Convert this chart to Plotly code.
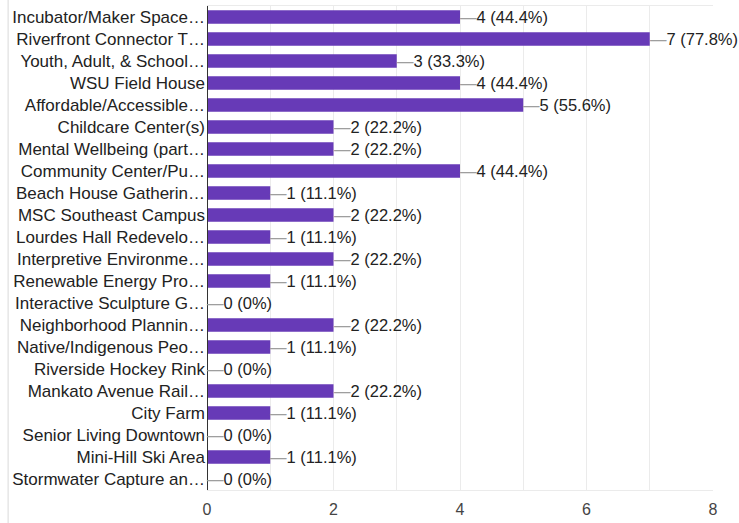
import plotly.graph_objects as go

categories = [
    "Incubator/Maker Space…",
    "Riverfront Connector T…",
    "Youth, Adult, & School…",
    "WSU Field House",
    "Affordable/Accessible…",
    "Childcare Center(s)",
    "Mental Wellbeing (part…",
    "Community Center/Pu…",
    "Beach House Gatherin…",
    "MSC Southeast Campus",
    "Lourdes Hall Redevelo…",
    "Interpretive Environme…",
    "Renewable Energy Pro…",
    "Interactive Sculpture G…",
    "Neighborhood Plannin…",
    "Native/Indigenous Peo…",
    "Riverside Hockey Rink",
    "Mankato Avenue Rail…",
    "City Farm",
    "Senior Living Downtown",
    "Mini-Hill Ski Area",
    "Stormwater Capture an…",
]
counts = [4, 7, 3, 4, 5, 2, 2, 4, 1, 2, 1, 2, 1, 0, 2, 1, 0, 2, 1, 0, 1, 0]
percents = ["44.4%", "77.8%", "33.3%", "44.4%", "55.6%", "22.2%", "22.2%", "44.4%",
            "11.1%", "22.2%", "11.1%", "22.2%", "11.1%", "0%", "22.2%", "11.1%",
            "0%", "22.2%", "11.1%", "0%", "11.1%", "0%"]
x_tickvals = [0, 1, 2, 3, 4, 5, 6, 7, 8]
x_ticktext = ["0", "", "2", "", "4", "", "6", "", "8"]

FONT = "Liberation Sans, Arial, sans-serif"

fig = go.Figure()
fig.add_trace(go.Bar(
    y=categories, x=counts, orientation="h",
    marker=dict(color="#673ab7", line=dict(width=0)),
    hoverinfo="skip",
))

for cat, c, p in zip(categories, counts, percents):
    fig.add_annotation(
        x=c, y=cat, xref="x", yref="y",
        text=f"<span style='color:#9e9e9e'>—</span>{c} ({p})",
        showarrow=False, xanchor="left", yanchor="middle", xshift=-2,
        font=dict(family=FONT, size=16.5, color="#222222"),
    )

fig.add_shape(type="line", xref="paper", yref="paper",
              x0=-0.393, x1=-0.393, y0=-0.07, y1=1.02,
              line=dict(color="#e6e6e6", width=1.5))

fig.update_layout(
    width=739, height=523,
    margin=dict(l=207, r=26, t=5, b=32, pad=0),
    paper_bgcolor="white", plot_bgcolor="white",
    showlegend=False,
    bargap=0.38,
    font=dict(family=FONT, size=16, color="#222222"),
    xaxis=dict(
        range=[0, 8], tickvals=x_tickvals, ticktext=x_ticktext,
        showgrid=True, gridcolor="#ebebeb", gridwidth=1,
        zeroline=False, showline=True, linecolor="#ebebeb", mirror=True,
        ticks="", ticklabelstandoff=5, tickfont=dict(size=16, color="#444444"),
        fixedrange=True,
    ),
    yaxis=dict(
        autorange="reversed", showgrid=False, zeroline=False,
        showline=False, ticks="", ticklabelstandoff=1,
        tickfont=dict(size=17, color="#222222"),
        automargin=False,
        fixedrange=True,
    ),
)
fig.add_shape(type="line", xref="x", yref="paper", x0=0, x1=0, y0=0, y1=1,
              line=dict(color="#333333", width=2))

fig.write_html("out.html", config={"displayModeBar": False},
               post_script="document.body.style.margin='0';")
